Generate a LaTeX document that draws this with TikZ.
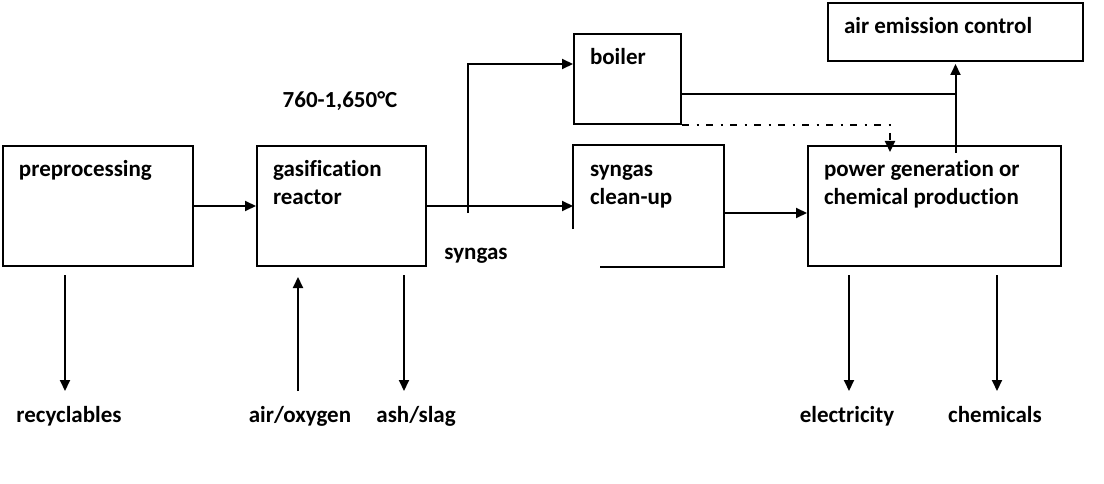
\documentclass[tikz,border=0pt]{standalone}
\usepackage{fontspec}
\setmainfont{Carlito}[Ligatures=NoCommon]
\usetikzlibrary{arrows.meta}
\tikzset{
  every node/.style={font=\bfseries\fontsize{23}{28}\selectfont},
  box/.style={draw,anchor=north west,align=left,inner xsep=16pt,inner ysep=0pt,text height=31pt,
    execute at begin node={\spaceskip=0pt\xspaceskip=0pt\relax}},
  flow/.style={-{Triangle[length=11pt,width=10pt]}},
  outlabel/.style={anchor=base,inner xsep=0pt,inner ysep=13pt,text height=17pt},
  gap/.style={shorten <=8pt},
}

\begin{document}
\begin{tikzpicture}[
  x=1pt,y=1pt,line width=2pt,
]
\useasboundingbox (0,0) rectangle (1104,483);

% process boxes
\node[box,text width=158pt,text depth=89pt] (pre) at (2,338) {preprocessing};
\node[box,text width=137pt,text depth=89pt] (gas) at (256,338) {gasification\\reactor};
\node[box,text width=75pt,text depth=59pt] (boiler) at (573,450) {boiler};
\node[box,draw=none,text width=117pt,text depth=89pt] (clean) at (573,338) {syngas\\clean-up};
\node[box,text width=221pt,text depth=89pt] (power) at (807,338) {power generation or\\chemical production};
\node[box,text width=223pt,text depth=27pt] (air) at (827,481) {air emission control};

% open outline of the clean-up box
\draw ([yshift=38pt]clean.south west) -- (clean.north west) -- (clean.north east)
  -- (clean.south east) -- ([xshift=27pt]clean.south west);

% free labels
\node[anchor=base] (temp) at (340,375) {760-1,650°C};
\node[anchor=base] (gaslbl) at (476,224) {syngas};
\node[outlabel] (rec) at (69,61) {recyclables};
\node[outlabel] (oxy) at (300,61) {air/oxygen};
\node[outlabel] (ash) at (416,61) {ash/slag};
\node[outlabel] (elec) at (847,61) {electricity};
\node[outlabel] (chem) at (995,61) {chemicals};
\coordinate (split) at (468,270);

% main line
\draw[flow] (pre.east) -- (gas.west);
\draw[flow] (gas.east) -- (clean.west);
\draw[flow] (split) |- ([yshift=15pt]boiler.west);
\draw[flow] ([yshift=-7pt]clean.east) -- ([yshift=-7pt]clean.east -| power.west);

% boiler to power and stack
\draw ([yshift=-15pt]boiler.east) -- ([yshift=-15pt]boiler.east -| air.south);
\draw[flow,shorten >=2pt] ([yshift=-8pt]power.north -| air.south) -- (air.south);
\draw[flow,dash pattern=on 7pt off 7.5pt on 2pt off 7.5pt,shorten >=-7pt]
  (boiler.south east) -| ([xshift=83pt]power.north west);

% inputs and outputs
\draw[flow,gap] ([xshift=-4pt]rec.north |- pre.south) -- ([xshift=-4pt]rec.north);
\draw[flow,shorten >=10pt] ([xshift=-2pt]oxy.north) -- ([xshift=-2pt]oxy.north |- gas.south);
\draw[flow,gap] ([xshift=-12pt]ash.north |- gas.south) -- ([xshift=-12pt]ash.north);
\draw[flow,gap] ([xshift=2pt]elec.north |- power.south) -- ([xshift=2pt]elec.north);
\draw[flow,gap] ([xshift=2pt]chem.north |- power.south) -- ([xshift=2pt]chem.north);
\end{tikzpicture}
\end{document}
